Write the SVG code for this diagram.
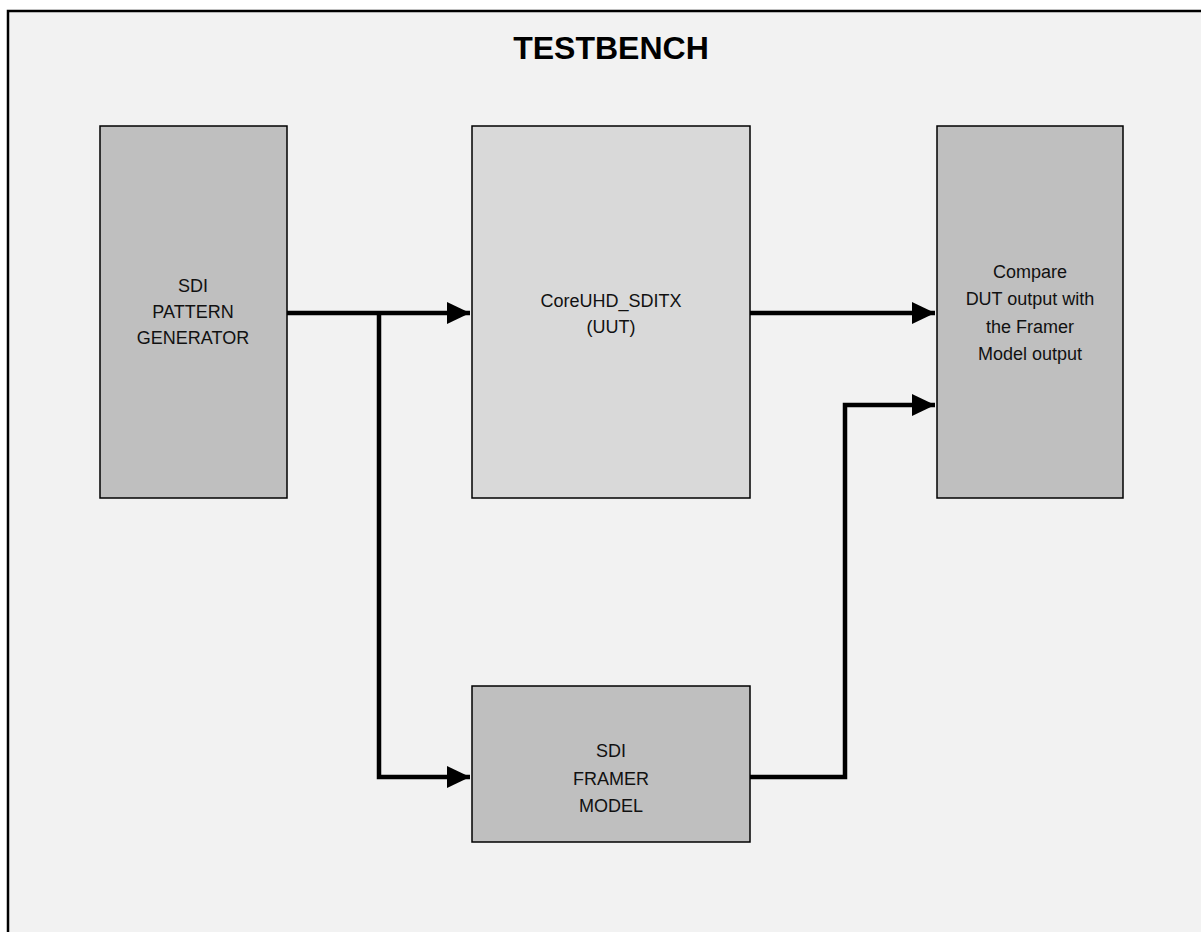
<svg xmlns="http://www.w3.org/2000/svg" width="1201" height="932" viewBox="0 0 1201 932">
<style>
.box{stroke:#000;stroke-width:1.5}
.dark{fill:#bfbfbf}
.light{fill:#d9d9d9}
.t{font-family:"Liberation Sans",Arial,sans-serif;font-size:18px;fill:#111;text-anchor:middle}
.title{font-family:"Liberation Sans",Arial,sans-serif;font-size:32px;font-weight:bold;fill:#000;text-anchor:middle}
.wire{fill:none;stroke:#000;stroke-width:4.5;stroke-linejoin:miter}
</style>
<defs>
<marker id="arr" markerUnits="userSpaceOnUse" markerWidth="24" markerHeight="24" refX="23" refY="11" orient="auto">
<path d="M0,0 L23,11 L0,22 Z" fill="#000"/>
</marker>
</defs>
<rect x="0" y="0" width="1201" height="932" fill="#fff"/>
<rect id="frame" x="8" y="11" width="1200" height="930" fill="#f2f2f2" stroke="#000" stroke-width="2.5"/>
<text class="title" x="611" y="59">TESTBENCH</text>
<g id="pattern-generator">
<rect class="box dark" x="100" y="126" width="187" height="372"/>
<text class="t" x="193" y="292">SDI</text>
<text class="t" x="193" y="318">PATTERN</text>
<text class="t" x="193" y="344">GENERATOR</text>
</g>
<g id="uut">
<rect class="box light" x="472" y="126" width="278" height="372"/>
<text class="t" x="611" y="307">CoreUHD_SDITX</text>
<text class="t" x="611" y="333">(UUT)</text>
</g>
<g id="compare">
<rect class="box dark" x="937" y="126" width="186" height="372"/>
<text class="t" x="1030" y="278">Compare</text>
<text class="t" x="1030" y="305">DUT output with</text>
<text class="t" x="1030" y="333">the Framer</text>
<text class="t" x="1030" y="360">Model output</text>
</g>
<g id="framer-model">
<rect class="box dark" x="472" y="686" width="278" height="156"/>
<text class="t" x="611" y="757">SDI</text>
<text class="t" x="611" y="785">FRAMER</text>
<text class="t" x="611" y="812">MODEL</text>
</g>
<g id="connectors">
<path class="wire" d="M287,313 H470" marker-end="url(#arr)"/>
<path class="wire" d="M379,313 V777 H470" marker-end="url(#arr)"/>
<path class="wire" d="M750,313 H935" marker-end="url(#arr)"/>
<path class="wire" d="M750,777 H845 V405 H935" marker-end="url(#arr)"/>
</g>
</svg>
